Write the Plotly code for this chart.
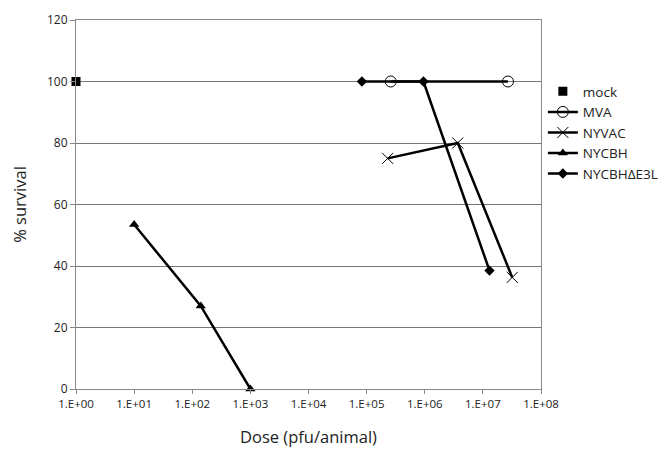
import plotly.graph_objects as go

tick_vals = [1e0, 1e1, 1e2, 1e3, 1e4, 1e5, 1e6, 1e7, 1e8]
tick_text = ["1.E+00", "1.E+01", "1.E+02", "1.E+03", "1.E+04", "1.E+05", "1.E+06", "1.E+07", "1.E+08"]
y_ticks = [0, 20, 40, 60, 80, 100, 120]

mock_x = [1]
mock_y = [100]
mva_x = [2.6e5, 2.7e7]
mva_y = [100, 100]
nyvac_x = [2.3e5, 3.7e6, 3.2e7]
nyvac_y = [75, 80, 36.3]
nycbh_x = [10, 1.4e2, 1e3]
nycbh_y = [53.5, 27, 0]
e3l_x = [8.3e4, 9.5e5, 1.3e7]
e3l_y = [100, 100, 38.5]

fig = go.Figure()
line = dict(color="black", width=2.5)
fig.add_trace(go.Scatter(x=mock_x, y=mock_y, mode="markers", name="mock",
                         marker=dict(symbol="square", size=9, color="black"), cliponaxis=False))
fig.add_trace(go.Scatter(x=mva_x, y=mva_y, mode="lines+markers", name="MVA", line=line,
                         marker=dict(symbol="circle-open", size=11, color="black", line=dict(width=1)),
                         cliponaxis=False))
fig.add_trace(go.Scatter(x=nyvac_x, y=nyvac_y, mode="lines+markers", name="NYVAC", line=line,
                         marker=dict(symbol="x-thin-open", size=11, color="black", line=dict(width=1, color="black")),
                         cliponaxis=False))
fig.add_trace(go.Scatter(x=nycbh_x, y=nycbh_y, mode="lines+markers", name="NYCBH", line=line,
                         marker=dict(symbol="triangle-up", size=9, color="black"), cliponaxis=False))
fig.add_trace(go.Scatter(x=e3l_x, y=e3l_y, mode="lines+markers", name="NYCBHΔE3L", line=line,
                         marker=dict(symbol="diamond", size=8, color="black"), cliponaxis=False))

fig.update_layout(
    width=669, height=463,
    margin=dict(l=68, r=136, t=12, b=82, autoexpand=False),
    paper_bgcolor="white", plot_bgcolor="white",
    font=dict(family="Open Sans", color="#222"),
    legend=dict(x=1.004, y=0.848, xanchor="left", yanchor="top", font=dict(size=13.5),
                itemwidth=30, tracegroupgap=0, bgcolor="rgba(0,0,0,0)"),
    xaxis=dict(type="log", range=[0, 8], tickvals=tick_vals, ticktext=tick_text,
               showgrid=False, showline=True, linecolor="#888", linewidth=1, mirror=True,
               ticks="outside", ticklen=4, tickcolor="#888", tickfont=dict(size=11.5),
               title=dict(text="Dose (pfu/animal)", font=dict(size=16.5), standoff=21)),
    yaxis=dict(range=[0, 120], tickvals=y_ticks, showgrid=True, gridcolor="#777", gridwidth=1,
               showline=True, linecolor="#888", linewidth=1, mirror=True, zeroline=False,
               ticks="outside", ticklen=5, tickcolor="#888", tickfont=dict(size=12),
               title=dict(text="% survival", font=dict(size=16.5), standoff=24)),
)
fig.write_html("out.html")
